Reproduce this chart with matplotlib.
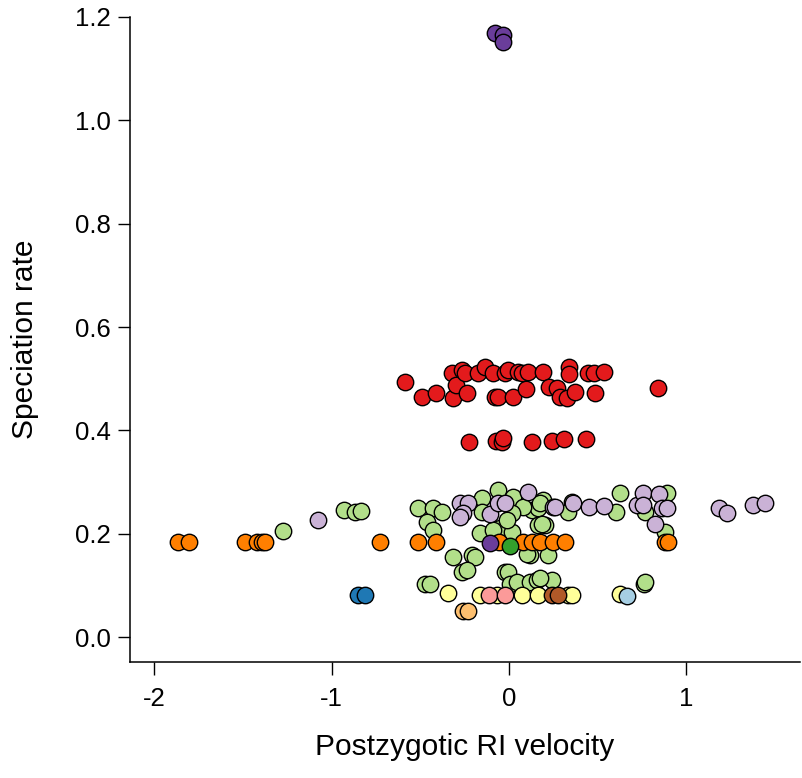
import matplotlib
matplotlib.use("Agg")
import matplotlib.pyplot as plt

plt.rcParams["font.family"] = ["Liberation Sans", "DejaVu Sans"]

# ── Datos (velocidad RI postcigótica vs tasa de especiación) ──────────────
red_x = [-0.587, -0.493, -0.412, -0.324, -0.315, -0.301, -0.267, -0.249, -0.236,
         -0.174, -0.136, -0.089, -0.079, -0.061, -0.023, -0.005, 0.020, 0.052,
         0.071, 0.095, 0.108, 0.189, 0.227, 0.268, 0.287, 0.325, 0.338, 0.338,
         0.371, 0.446, 0.479, 0.484, 0.537, 0.841,
         -0.226, -0.074, -0.042, -0.033, 0.127, 0.240, 0.309, 0.432]
red_y = [0.494, 0.465, 0.472, 0.511, 0.462, 0.488, 0.517, 0.511, 0.472,
         0.511, 0.523, 0.511, 0.465, 0.464, 0.511, 0.517, 0.465, 0.514,
         0.511, 0.480, 0.514, 0.514, 0.485, 0.482, 0.465, 0.462, 0.522, 0.509,
         0.475, 0.511, 0.511, 0.472, 0.514, 0.482,
         0.377, 0.380, 0.377, 0.385, 0.377, 0.380, 0.384, 0.383]

orange_x = [-1.865, -1.804, -1.489, -1.423, -1.395, -1.376, -0.728, -0.512, -0.412,
            -0.055, 0.080, 0.127, 0.174, 0.249, 0.315, 0.879, 0.896]
orange_y = [0.185] * len(orange_x)

lgreen_x = [-1.273, -0.931, -0.869, -0.837, -0.512, -0.427, -0.380, -0.464, -0.427,
            -0.154, -0.061, 0.024, -0.154, 0.127, 0.165, 0.193, 0.080, 0.015,
            -0.164, -0.051, 0.015, -0.089, 0.165, 0.202, -0.014, 0.174, 0.184,
            0.353, 0.334, 0.625, 0.603, 0.766, 0.888, 0.879,
            -0.315, -0.211, -0.192, -0.267, -0.239, -0.474, -0.446, -0.023,
            -0.005, 0.005, 0.043, 0.118, 0.156, 0.240, 0.118, 0.099, 0.221,
            0.174, 0.760, 0.766]
lgreen_y = [0.206, 0.246, 0.242, 0.245, 0.250, 0.251, 0.243, 0.224, 0.208,
            0.269, 0.285, 0.272, 0.243, 0.246, 0.250, 0.266, 0.253, 0.240,
            0.201, 0.211, 0.204, 0.208, 0.217, 0.217, 0.227, 0.259, 0.220,
            0.262, 0.243, 0.279, 0.243, 0.243, 0.280, 0.204,
            0.156, 0.159, 0.156, 0.127, 0.130, 0.104, 0.104, 0.127,
            0.127, 0.104, 0.108, 0.108, 0.111, 0.111, 0.159, 0.162, 0.159,
            0.114, 0.104, 0.108]

lilac_x = [-1.076, -0.277, -0.230, -0.258, -0.277, -0.108, -0.061, -0.023, 0.108,
           0.249, 0.259, 0.362, 0.452, 0.535, 0.719, 0.756, 0.756, 0.847, 0.860,
           0.888, 0.822, 1.185, 1.230, 1.377, 1.443]
lilac_y = [0.226, 0.259, 0.259, 0.240, 0.233, 0.238, 0.259, 0.259, 0.282,
           0.253, 0.253, 0.259, 0.253, 0.254, 0.256, 0.279, 0.256, 0.277, 0.251,
           0.251, 0.219, 0.250, 0.240, 0.256, 0.259]

yellow_x = [-0.343, -0.164, -0.070, 0.071, 0.165, 0.334, 0.353, 0.625]
yellow_y = [0.085, 0.082, 0.082, 0.082, 0.082, 0.082, 0.082, 0.084]

pink_x = [-0.112, -0.023]
pink_y = [0.082, 0.082]

brown_x = [0.240, 0.277]
brown_y = [0.082, 0.082]

dblue_x = [-0.850, -0.812]
dblue_y = [0.082, 0.082]

lblue_x = [0.663]
lblue_y = [0.080]

lorange_x = [-0.258, -0.230]
lorange_y = [0.051, 0.051]

purple_x = [-0.079, -0.034, -0.034, -0.108]
purple_y = [1.169, 1.165, 1.151, 0.182]

dgreen_x = [0.005]
dgreen_y = [0.177]

# paleta "Paired" de ColorBrewer
groups = [
    (lgreen_x, lgreen_y, "#B2DF8A"),
    (lilac_x, lilac_y, "#CAB2D6"),
    (yellow_x, yellow_y, "#FFFF99"),
    (pink_x, pink_y, "#FB9A99"),
    (brown_x, brown_y, "#B15928"),
    (dblue_x, dblue_y, "#1F78B4"),
    (lblue_x, lblue_y, "#A6CEE3"),
    (lorange_x, lorange_y, "#FDBF6F"),
    (orange_x, orange_y, "#FF7F00"),
    (purple_x, purple_y, "#6A3D9A"),
    (dgreen_x, dgreen_y, "#33A02C"),
    (red_x, red_y, "#E31A1C"),
]

fig = plt.figure(figsize=(8.03, 7.78), dpi=100)
ax = fig.add_axes([130 / 803, 116.3 / 778, 670 / 803, 645 / 778])

for xs, ys, col in groups:
    ax.scatter(xs, ys, s=140, c=col, edgecolors="black", linewidths=1.0,
               zorder=3, clip_on=False)

ax.set_xlim(-2.137, 1.640)
ax.set_ylim(-0.047, 1.2)
ax.set_xticks([-2, -1, 0, 1])
ax.set_xticklabels(["-2", "-1", "0", "1"])
ax.set_yticks([0.0, 0.2, 0.4, 0.6, 0.8, 1.0, 1.2])
ax.set_yticklabels(["0.0", "0.2", "0.4", "0.6", "0.8", "1.0", "1.2"])

for side in ("top", "right"):
    ax.spines[side].set_visible(False)
for side in ("left", "bottom"):
    ax.spines[side].set_linewidth(1.1)

ax.tick_params(axis="both", direction="out", length=9, width=1.0, labelsize=18.5)
ax.tick_params(axis="x", pad=9)
ax.tick_params(axis="y", pad=5)

ax.set_xlabel("Postzygotic RI velocity", fontsize=21.5, labelpad=16)
ax.set_ylabel("Speciation rate", fontsize=21.5, labelpad=26)

fig.savefig("out.png", dpi=100)
